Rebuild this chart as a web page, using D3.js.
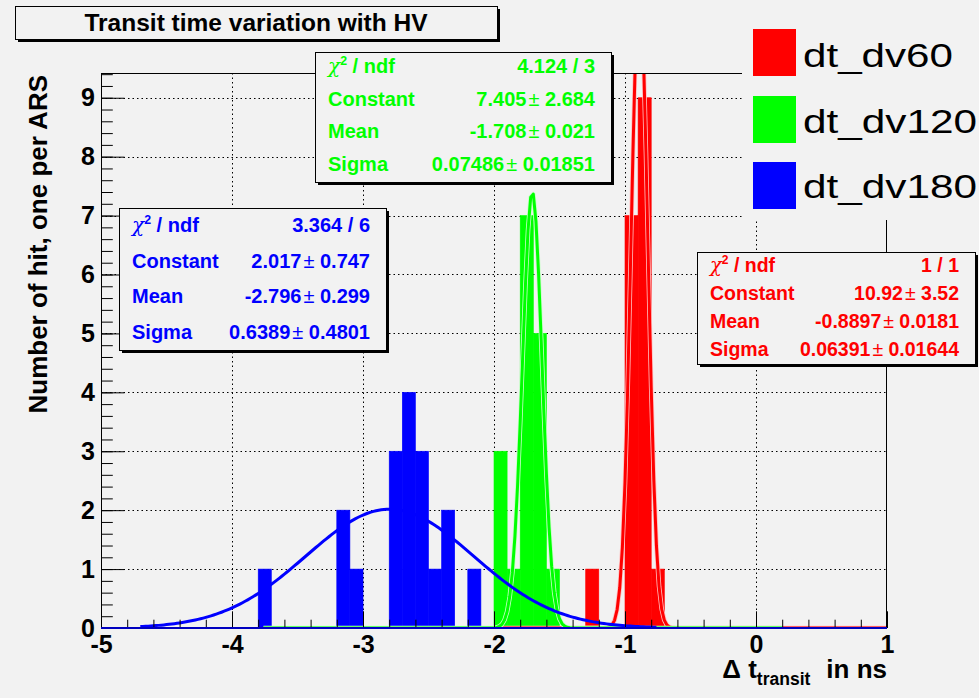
<!DOCTYPE html>
<html><head><meta charset="utf-8">
<script src="https://cdn.jsdelivr.net/npm/d3@7"></script>
<style>
body{margin:0;background:#f2f2f2;}
svg{display:block;font-family:"Liberation Sans",Arial,Helvetica,sans-serif;}
</style>
</head><body><svg id="c" width="979" height="698"></svg>
<script>
// ---------------- data ----------------
const chartTitle = "Transit time variation with HV";
const seriesNames = ["dt_dv60", "dt_dv120", "dt_dv180"];
const seriesColors = ["#ff0000", "#00ff00", "#0000ff"];
const binWidth = 0.1;
const redBinStarts = [-1.3, -1.0, -0.9, -0.8];
const redCounts = [1, 7, 9, 1];
const greenBinStarts = [-2.0, -1.9, -1.8, -1.7, -1.6];
const greenCounts = [3, 1, 7, 5, 1];
const blueBinStarts = [-3.8, -3.2, -3.1, -2.8, -2.7, -2.6, -2.5, -2.4, -2.2];
const blueCounts = [1, 2, 1, 3, 4, 3, 1, 2, 1];
const fitConstant = [10.92, 7.405, 2.017];
const fitMean = [-0.8897, -1.708, -2.796];
const fitSigma = [0.06391, 0.07486, 0.6389];
const fitRangeLo = [-2.0, -3.76, -4.7];
const fitRangeHi = [1.0, 0.2, -0.75];
const statLabels = ["χ2 / ndf", "Constant", "Mean", "Sigma"];
const redStats = ["1 / 1", "10.92 ± 3.52", "-0.8897 ± 0.0181", "0.06391 ± 0.01644"];
const greenStats = ["4.124 / 3", "7.405 ± 2.684", "-1.708 ± 0.021", "0.07486 ± 0.01851"];
const blueStats = ["3.364 / 6", "2.017 ± 0.747", "-2.796 ± 0.299", "0.6389 ± 0.4801"];
const xMajorTicks = [-5, -4, -3, -2, -1, 0, 1];
const yMajorTicks = [0, 1, 2, 3, 4, 5, 6, 7, 8, 9];
const xAxisTitle = ["Δ t", "transit", "in ns"];
const yAxisTitle = "Number of hit, one per ARS";

// ---------------- layout ----------------
const svg = d3.select("#c");
const L = 101, R = 887, T = 73, B = 628;
const x = d3.scaleLinear().domain([-5, 1]).range([L, R]);
const y = d3.scaleLinear().domain([0, 9.42]).range([B, T]);
const FONT_BOLD = "bold";

svg.append("rect").attr("width", 979).attr("height", 698).attr("fill", "#f2f2f2");

const defs = svg.append("defs");
defs.append("clipPath").attr("id", "frameClip").append("rect")
  .attr("x", L).attr("y", T).attr("width", R - L).attr("height", B - T);

// grid
const grid = svg.append("g").attr("stroke", "#000").attr("stroke-width", 1).attr("stroke-dasharray", "1.5,3");
xMajorTicks.filter(d => d > -5 && d < 1).forEach(d => {
  grid.append("line").attr("x1", Math.round(x(d)) + 0.5).attr("x2", Math.round(x(d)) + 0.5).attr("y1", T).attr("y2", B);
});
yMajorTicks.filter(d => d > 0).forEach(d => {
  grid.append("line").attr("x1", L).attr("x2", R).attr("y1", Math.round(y(d)) + 0.5).attr("y2", Math.round(y(d)) + 0.5);
});

// histograms
const plot = svg.append("g").attr("clip-path", "url(#frameClip)");
const hists = [[redBinStarts, redCounts], [greenBinStarts, greenCounts], [blueBinStarts, blueCounts]];
hists.forEach(([starts, counts], si) => {
  plot.append("g").selectAll("rect").data(starts.map((s, i) => ({s, c: counts[i]})))
    .join("rect")
    .attr("x", d => x(d.s))
    .attr("width", d => x(d.s + binWidth) - x(d.s))
    .attr("y", d => y(d.c))
    .attr("height", d => y(0) - y(d.c))
    .attr("fill", seriesColors[si])
    .attr("stroke", seriesColors[si])
    .attr("stroke-width", 0.6);
});

// fit curves
const underlay = ["#ffc0c0", "#c8ffc8", null];
const line = d3.line().x(d => x(d[0])).y(d => y(d[1]));
[0, 1, 2].forEach(si => {
  const pts = [];
  const step = 0.02;
  for (let v = fitRangeLo[si]; v <= fitRangeHi[si] + 1e-9; v += step) {
    const z = (v - fitMean[si]) / fitSigma[si];
    pts.push([v, fitConstant[si] * Math.exp(-0.5 * z * z)]);
  }
  if (underlay[si]) {
    plot.append("path").attr("d", line(pts)).attr("fill", "none")
      .attr("stroke", underlay[si]).attr("stroke-width", 4.6).attr("stroke-linejoin", "round");
  }
  plot.append("path").attr("d", line(pts)).attr("fill", "none")
    .attr("stroke", seriesColors[si]).attr("stroke-width", 3).attr("stroke-linejoin", "round");
});

// axes
const xMinor = d3.range(-5, 1.0001, 0.2).map(v => +v.toFixed(2));
const yMinor = d3.range(0, 9.42, 0.2).map(v => +v.toFixed(2));
const gx = svg.append("g").attr("transform", `translate(0,${B})`);
gx.call(d3.axisBottom(x).tickValues(xMinor).tickSize(-8.3).tickFormat(""));
gx.call(g => g.select(".domain").remove());
const gx2 = svg.append("g").attr("transform", `translate(0,${B})`);
gx2.call(d3.axisBottom(x).tickValues(xMajorTicks).tickSize(-16.7).tickPadding(7).tickFormat(d => String(d)));
gx2.select(".domain").remove();
gx2.selectAll("text").attr("font-size", 25).attr("font-weight", FONT_BOLD).attr("fill", "#000")
  .attr("font-family", "Liberation Sans, Arial, sans-serif");

const gy = svg.append("g").attr("transform", `translate(${L},0)`);
gy.call(d3.axisLeft(y).tickValues(yMinor).tickSize(-11.8).tickFormat(""));
gy.select(".domain").remove();
const gy2 = svg.append("g").attr("transform", `translate(${L},0)`);
gy2.call(d3.axisLeft(y).tickValues(yMajorTicks).tickSize(-23.6).tickPadding(6).tickFormat(d => String(d)));
gy2.select(".domain").remove();
gy2.selectAll("text").attr("font-size", 25).attr("font-weight", FONT_BOLD).attr("fill", "#000")
  .attr("font-family", "Liberation Sans, Arial, sans-serif");
svg.selectAll(".tick line").attr("stroke", "#000").attr("stroke-width", 1);

// frame
svg.append("rect").attr("x", L + 0.5).attr("y", T + 0.5).attr("width", R - L - 1).attr("height", B - T - 1)
  .attr("fill", "none").attr("stroke", "#000").attr("stroke-width", 1);
svg.append("line").attr("x1", L).attr("x2", R).attr("y1", B + 0.5).attr("y2", B + 0.5).attr("stroke", "#000");
svg.append("line").attr("x1", L + 0.5).attr("x2", L + 0.5).attr("y1", T).attr("y2", B).attr("stroke", "#000");
// blue histogram outline along the zero level
svg.append("line").attr("x1", x(-5)).attr("x2", x(1)).attr("y1", B).attr("y2", B)
  .attr("stroke", "#0000ff").attr("stroke-width", 1.3);

// axis titles
const xt = svg.append("text").attr("x", R).attr("y", 678).attr("text-anchor", "end")
  .attr("font-weight", "bold").attr("font-size", 26).attr("fill", "#000");
xt.append("tspan").text(xAxisTitle[0]);
xt.append("tspan").attr("font-size", 17.5).attr("dy", 7).text(xAxisTitle[1]);
xt.append("tspan").attr("dy", -7).attr("dx", 16).text(xAxisTitle[2]);

svg.append("text").attr("transform", `translate(47,${T + 2}) rotate(-90)`).attr("text-anchor", "end")
  .attr("font-weight", "bold").attr("font-size", 26).attr("fill", "#000").text(yAxisTitle);

// stat boxes
function statBox(cfg) {
  const g = svg.append("g");
  g.append("rect").attr("x", cfg.x + 3).attr("y", cfg.y + 3).attr("width", cfg.w).attr("height", cfg.h).attr("fill", "#000");
  g.append("rect").attr("x", cfg.x + 0.5).attr("y", cfg.y + 0.5).attr("width", cfg.w).attr("height", cfg.h)
    .attr("fill", "#f2f2f2").attr("stroke", "#000").attr("stroke-width", 1);
  const rowH = cfg.h / 4;
  statLabels.forEach((lab, i) => {
    const by = cfg.y + rowH * (i + cfg.rowOff);
    const t = g.append("text").attr("x", cfg.x + 13).attr("y", by).attr("fill", cfg.color)
      .attr("font-size", cfg.fs).attr("font-weight", "bold");
    if (i === 0) {
      t.append("tspan").attr("font-weight", "normal").attr("font-family", "DejaVu Serif, serif").attr("font-style", "italic").text(lab[0]);
      t.append("tspan").attr("dy", -8).attr("font-size", cfg.fs * 0.62).text(lab[1]);
      t.append("tspan").attr("dy", 8).text(lab.slice(2));
    } else t.text(lab);
    const v = g.append("text").attr("x", cfg.x + cfg.w - 16).attr("y", by).attr("text-anchor", "end")
      .attr("fill", cfg.color).attr("font-size", cfg.fs).attr("font-weight", "bold");
    const parts = cfg.values[i].split(" ± ");
    if (parts.length === 2) {
      v.append("tspan").text(parts[0]);
      v.append("tspan").attr("dx", 2).attr("font-weight", "normal").text("±");
      v.append("tspan").text(" " + parts[1]);
    } else v.text(cfg.values[i]);
  });
}
statBox({x: 119, y: 208, w: 267, h: 142, color: "#0000ff", values: blueStats, fs: 20, rowOff: 0.68});
statBox({x: 315, y: 52, w: 296, h: 130, color: "#00ff00", values: greenStats, fs: 20, rowOff: 0.66});
statBox({x: 697, y: 252, w: 278, h: 112, color: "#ff0000", values: redStats, fs: 19.5, rowOff: 0.7});

// legend
const lg = svg.append("g");
lg.append("rect").attr("x", 742).attr("y", 10).attr("width", 240).attr("height", 210).attr("fill", "#f2f2f2");
const legY = [29, 96, 162];
const legBase = [66.7, 133.3, 198.3];
const legW = [150, 174, 174];
seriesNames.forEach((n, i) => {
  lg.append("rect").attr("x", 753).attr("y", legY[i]).attr("width", 43).attr("height", 47).attr("fill", seriesColors[i]);
  lg.append("text").attr("x", 803).attr("y", legBase[i]).attr("font-size", 34).attr("fill", "#000")
    .attr("textLength", legW[i]).attr("lengthAdjust", "spacingAndGlyphs").text(n);
});

// title box
const tg = svg.append("g");
tg.append("rect").attr("x", 18).attr("y", 9).attr("width", 482).attr("height", 33).attr("fill", "#000");
tg.append("rect").attr("x", 15.5).attr("y", 6.5).attr("width", 482).attr("height", 33)
  .attr("fill", "#f2f2f2").attr("stroke", "#000").attr("stroke-width", 1);
tg.append("text").attr("x", 256).attr("y", 30.5).attr("text-anchor", "middle").attr("font-weight", "bold")
  .attr("font-size", 24.5).attr("fill", "#000").text(chartTitle);
</script>
</body></html>
